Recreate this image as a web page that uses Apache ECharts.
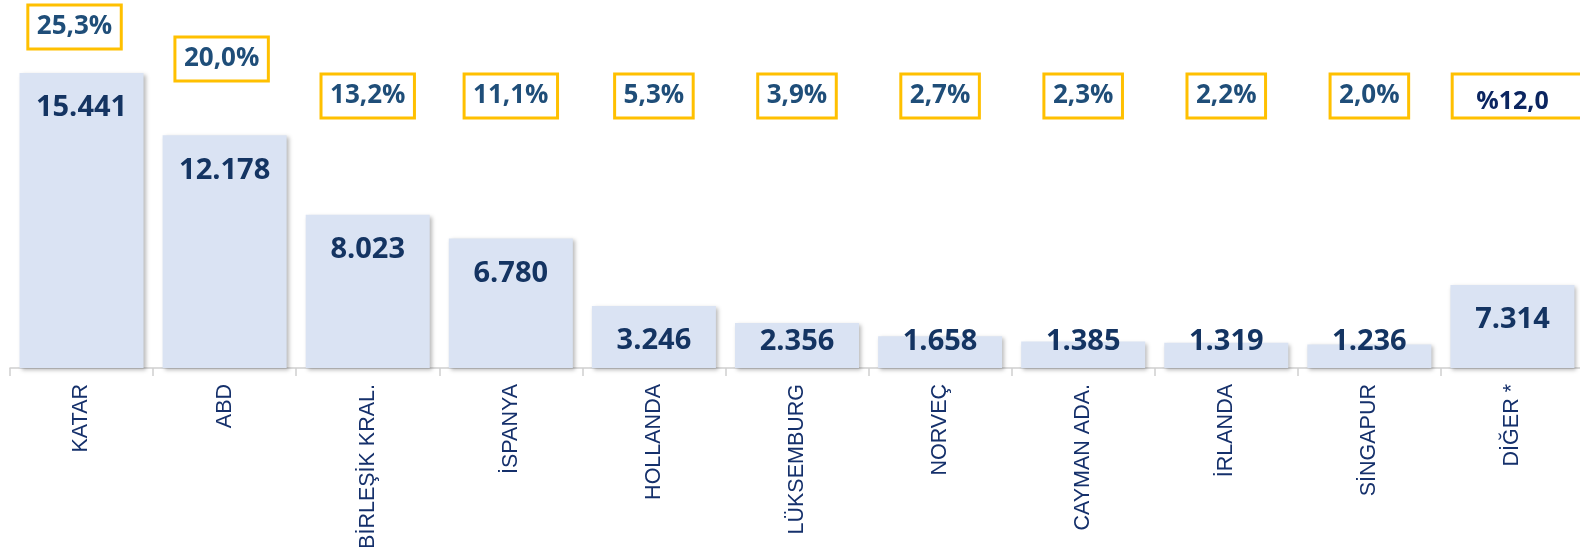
<!DOCTYPE html>
<html>
<head>
<meta charset="utf-8">
<script src="https://cdn.jsdelivr.net/npm/echarts@6/dist/echarts.min.js"></script>
<style>
html,body{margin:0;padding:0;background:#fff;}
#chart{width:1580px;height:547px;}
</style>
</head>
<body>
<div id="chart"></div>
<script>
// Categories (countries)
const categories = ['KATAR', 'ABD', 'BİRLEŞİK KRAL.', 'İSPANYA', 'HOLLANDA', 'LÜKSEMBURG', 'NORVEÇ', 'CAYMAN ADA.', 'İRLANDA', 'SİNGAPUR', 'DİĞER *'];
// Values printed on the bars
const values = [15441, 12178, 8023, 6780, 3246, 2356, 1658, 1385, 1319, 1236, 7314];
// Bar heights as drawn in the picture (the "DİĞER" bar is drawn shorter than its value)
const drawnValues = [15441, 12178, 8023, 6780, 3246, 2356, 1658, 1385, 1319, 1236, 4340];
// Share labels shown in the yellow boxes
const shareLabels = ['25,3%', '20,0%', '13,2%', '11,1%', '5,3%', '3,9%', '2,7%', '2,3%', '2,2%', '2,0%', '%12,0'];

function fmtThousands(v) {
  return String(v).replace(/\B(?=(\d{3})+(?!\d))/g, '.');
}

// style: extra lift (px) and leftward nudge of some share boxes
const boxLift = { 0: 69, 1: 37 };
const boxNudge = { 0: 14, 1: 6 };

const chart = echarts.init(document.getElementById('chart'), null, { renderer: 'canvas' });

const boxRich = {
  box: {
    fontFamily: 'Open Sans', fontWeight: 'bold', fontSize: 26, lineHeight: 44,
    color: '#1F4E79', padding: [9, 9, 9, 9], borderColor: '#FFC000', borderWidth: 3
  },
  boxOther: {
    fontFamily: 'Open Sans', fontWeight: 'bold', fontSize: 25, lineHeight: 44,
    color: '#0B2560', padding: [15, 36, 4, 24], borderColor: '#FFC000', borderWidth: 3
  },
  spO: { width: 12, lineHeight: 44, fontSize: 10, color: 'transparent' }
};
Object.keys(boxLift).forEach(function (k) {
  boxRich['gap' + k] = { lineHeight: boxLift[k], fontSize: 10, color: 'transparent' };
});
Object.keys(boxNudge).forEach(function (k) {
  boxRich['nd' + k] = { width: boxNudge[k], lineHeight: 44, fontSize: 10, color: 'transparent' };
});

const option = {
  animation: false,
  backgroundColor: '#ffffff',
  grid: { left: 10, top: 24, width: 1574, bottom: 179, containLabel: false, outerBoundsMode: 'none' },
  xAxis: [
    {
      type: 'category',
      data: categories,
      position: 'bottom',
      axisLine: { show: true, lineStyle: { color: '#D0D0D0', width: 1.5 } },
      axisTick: { show: true, length: 8, lineStyle: { color: '#D0D0D0', width: 1.5 } },
      axisLabel: {
        rotate: 90, margin: 16, interval: 0,
        fontFamily: 'Liberation Sans', fontSize: 21.5, color: '#15306B'
      }
    },
    {
      type: 'category',
      data: shareLabels,
      position: 'top',
      offset: -94,
      axisLine: { show: false },
      axisTick: { show: false },
      axisLabel: {
        interval: 0, margin: 0,
        formatter: function (v, i) {
          if (i === shareLabels.length - 1) {
            return '{spO| }{boxOther|' + v + '}';
          }
          let s = '{box|' + v + '}';
          if (boxNudge[i]) s += '{nd' + i + '| }';
          if (boxLift[i]) s += '\n{gap' + i + '| }';
          return s;
        },
        rich: boxRich
      }
    }
  ],
  yAxis: {
    type: 'value', min: 0, max: 18000, show: false,
    splitLine: { show: false }
  },
  series: [
    {
      type: 'bar',
      xAxisIndex: 0,
      barWidth: 124,
      data: drawnValues.map(function (v) {
        const top = v >= 3000;
        return {
          value: v,
          label: { position: top ? 'insideTop' : 'insideBottom', distance: top ? 20 : 11 }
        };
      }),
      itemStyle: {
        color: '#DAE3F3',
        shadowColor: 'rgba(0,0,0,0.28)', shadowBlur: 4, shadowOffsetX: 2, shadowOffsetY: 2
      },
      label: {
        show: true,
        fontFamily: 'Open Sans', fontWeight: 'bold', fontSize: 29, lineHeight: 30,
        color: '#143462',
        formatter: function (p) { return fmtThousands(values[p.dataIndex]); }
      }
    }
  ]
};

chart.setOption(option);
</script>
</body>
</html>
